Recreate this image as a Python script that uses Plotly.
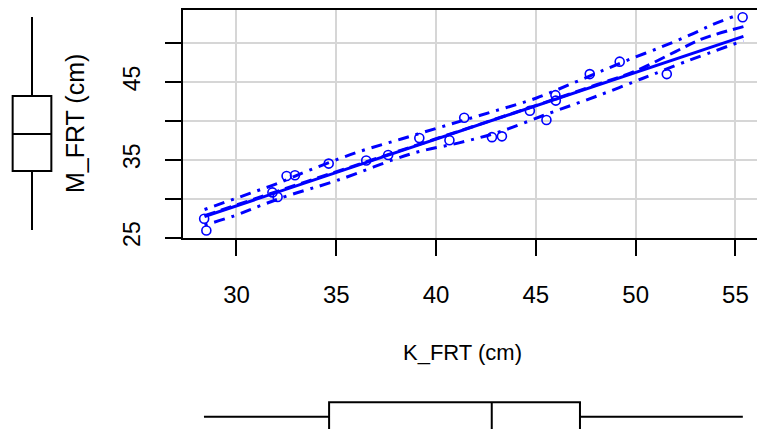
import plotly.graph_objects as go

# ---- data ----
k_frt = [28.38, 28.49, 32.06, 32.51, 32.93, 34.62, 39.16, 40.67, 41.41, 42.80, 43.30,
         45.53, 45.98, 47.70, 49.20, 51.56, 55.36, 31.8, 36.5, 44.7, 46.0, 37.6]
m_frt = [27.41, 25.90, 30.20, 32.90, 33.00, 34.50, 37.80, 37.50, 40.40, 37.90, 38.00,
         40.10, 43.30, 46.00, 47.60, 46.00, 53.30, 30.8, 34.9, 41.3, 42.6, 35.6]

reg_x = [28.4, 55.4]
reg_y = [27.7, 50.85]

loess_x = [28.4, 32.0, 36.0, 40.0, 44.0, 48.0, 50.0, 52.0, 53.3, 55.4]
loess_y = [27.8, 30.9, 34.3, 37.7, 41.1, 44.6, 46.4, 48.9, 50.5, 52.1]

up_x = [28.4, 29.6, 30.7, 32.0, 33.7, 36.1, 38.3, 40.5, 42.8, 45.0, 47.0, 48.2, 49.6, 51.3, 52.7, 53.8, 54.9]
up_y = [28.6, 29.7, 30.7, 31.9, 33.7, 36.0, 37.7, 39.4, 41.15, 42.9, 45.0, 46.3, 47.8, 49.5, 51.0, 52.3, 53.4]

lo_x = [28.4, 29.9, 31.2, 32.6, 35.0, 38.8, 41.2, 43.2, 45.6, 47.5, 48.6, 49.9, 50.8, 52.5, 55.4]
lo_y = [26.6, 27.8, 29.1, 30.4, 32.3, 35.8, 37.2, 38.6, 40.9, 42.65, 43.7, 45.0, 45.9, 47.6, 50.3]

# box plot statistics: [lower whisker, q1, median, q3, upper whisker]
box_m = [25.96, 33.55, 38.30, 43.19, 53.34]
box_k = [28.37, 34.64, 42.79, 47.21, 55.37]

x_ticks = [30, 35, 40, 45, 50, 55]
y_ticks = [25, 30, 35, 40, 45, 50]
y_ticktext = ["25", "", "35", "", "45", ""]

W, H = 757, 429
BLUE = "#0000FF"

fig = go.Figure()

fig.add_trace(go.Scatter(x=k_frt, y=m_frt, mode="markers",
                         marker=dict(symbol="circle-open", size=9, color=BLUE,
                                     line=dict(width=1.6, color=BLUE)),
                         xaxis="x", yaxis="y", showlegend=False))
fig.add_trace(go.Scatter(x=reg_x, y=reg_y, mode="lines",
                         line=dict(color=BLUE, width=3), showlegend=False))
fig.add_trace(go.Scatter(x=loess_x, y=loess_y, mode="lines",
                         line=dict(color=BLUE, width=3, dash="11px,6px", shape="spline"),
                         showlegend=False))
fig.add_trace(go.Scatter(x=up_x, y=up_y, mode="lines",
                         line=dict(color=BLUE, width=3, dash="3px,7px,11px,7px", shape="spline"),
                         showlegend=False))
fig.add_trace(go.Scatter(x=lo_x, y=lo_y, mode="lines",
                         line=dict(color=BLUE, width=3, dash="3px,7px,11px,7px", shape="spline"),
                         showlegend=False))

# left box plot (M_FRT)
fig.add_trace(go.Box(x=[0], lowerfence=[box_m[0]], q1=[box_m[1]], median=[box_m[2]],
                     q3=[box_m[3]], upperfence=[box_m[4]], width=1, whiskerwidth=0,
                     orientation="v", boxpoints=False, fillcolor="white",
                     line=dict(color="black", width=2), xaxis="x2", yaxis="y2",
                     showlegend=False, hoverinfo="skip"))
# bottom box plot (K_FRT)
fig.add_trace(go.Box(y=[0], lowerfence=[box_k[0]], q1=[box_k[1]], median=[box_k[2]],
                     q3=[box_k[3]], upperfence=[box_k[4]], width=1, whiskerwidth=0,
                     orientation="h", boxpoints=False, fillcolor="white",
                     line=dict(color="black", width=2), xaxis="x3", yaxis="y3",
                     showlegend=False, hoverinfo="skip"))

def px(v):
    return v / W

def py(v):
    return 1 - v / H

xr = [27.32, 56.08]
yr = [24.94, 54.24]
font = "Liberation Sans, Arial, sans-serif"

fig.update_layout(
    width=W, height=H, autosize=False,
    margin=dict(l=0, r=0, t=0, b=0, autoexpand=False),
    paper_bgcolor="white", plot_bgcolor="white",
    font=dict(family=font, color="black"),
    xaxis=dict(domain=[px(183), 1], range=xr, tickvals=x_ticks, automargin=False,
               ticktext=[str(t) for t in x_ticks],
               showgrid=True, gridcolor="#d6d6d6", gridwidth=2, zeroline=False,
               showline=True, linecolor="black", linewidth=2, mirror=True,
               ticks="outside", ticklen=16, tickwidth=2, tickcolor="black",
               ticklabelstandoff=18, tickfont=dict(size=24, family=font, color="black")),
    yaxis=dict(domain=[py(238), py(10)], range=yr, tickvals=y_ticks, ticktext=y_ticktext,
               tickangle=-90, automargin=False,
               showgrid=True, gridcolor="#d6d6d6", gridwidth=2, zeroline=False,
               showline=True, linecolor="black", linewidth=2, mirror=False,
               ticks="outside", ticklen=16, tickwidth=2, tickcolor="black",
               ticklabelstandoff=16, tickfont=dict(size=23, family=font, color="black")),
    xaxis2=dict(domain=[0, px(66)], range=[-32 / 38.7, 34 / 38.7], visible=False,
                anchor="y2", automargin=False),
    yaxis2=dict(domain=[py(238), py(10)], range=yr, visible=False, anchor="x2",
                automargin=False),
    xaxis3=dict(domain=[px(183), 1], range=xr, visible=False, anchor="y3",
                automargin=False),
    yaxis3=dict(domain=[0, 40 / H], range=[-12.3 / 28.8, -12.3 / 28.8 + 40 / 28.8],
                visible=False, anchor="x3", automargin=False),
    annotations=[
        dict(text="K_FRT (cm)", x=px(462), y=py(352), xref="paper", yref="paper",
             showarrow=False, xanchor="center", yanchor="middle",
             font=dict(size=22, family=font, color="black")),
        dict(text="M_FRT (cm)", x=px(75), y=py(124), xref="paper", yref="paper",
             showarrow=False, xanchor="center", yanchor="middle", textangle=-90,
             font=dict(size=25, family=font, color="black")),
    ],
)

fig.write_html("out.html", config={"displayModeBar": False},
               post_script="document.body.style.margin='0px';document.body.style.overflow='hidden';")
